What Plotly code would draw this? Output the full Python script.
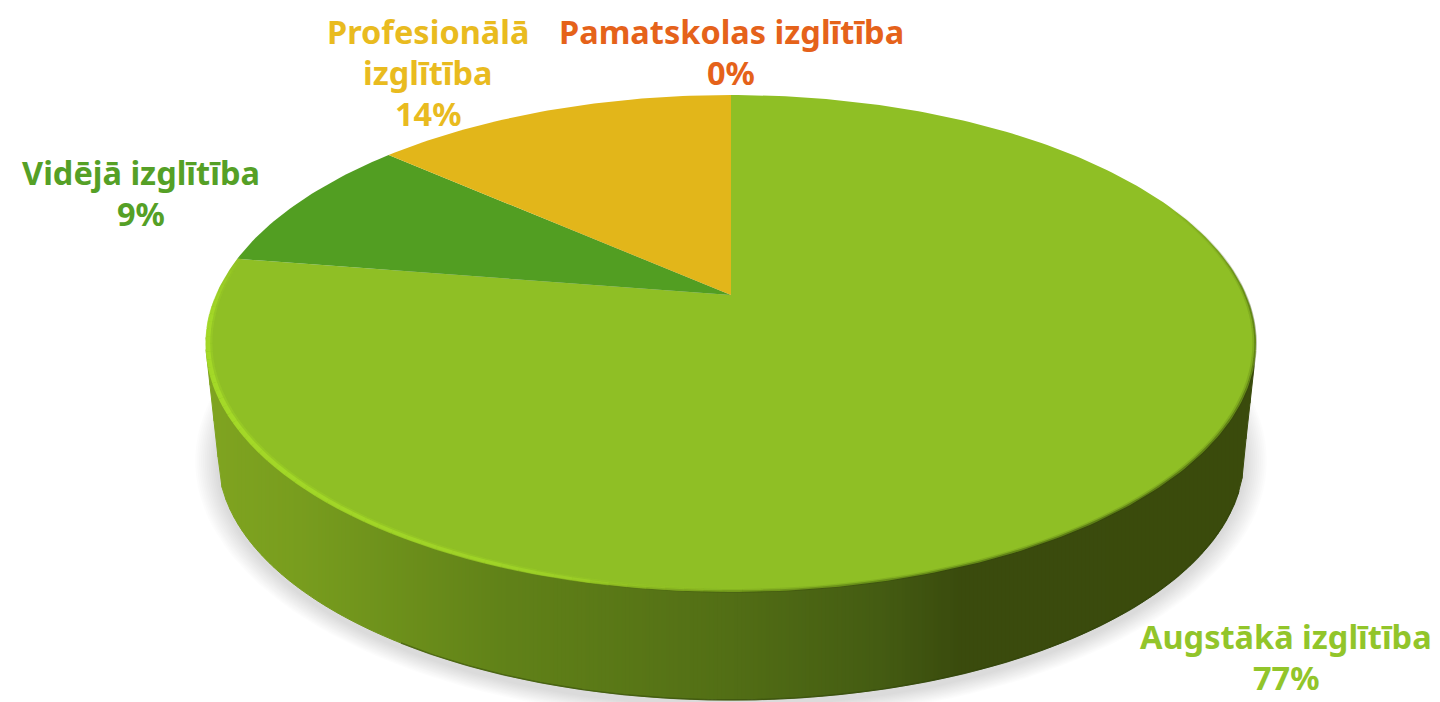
import numpy as np
import plotly.graph_objects as go

# ---- data (clockwise from 12 o'clock) ----
categories = ["Augstākā izglītība", "Vidējā izglītība", "Profesionālā izglītība", "Pamatskolas izglītība"]
values = [77.49, 9.0, 13.51, 0.0]
slice_colors = ["#8FBF25", "#529E22", "#E2B61A", "#E5611A"]
label_colors = ["#92C52A", "#55A026", "#E9BB1F", "#E5621A"]
label_lines = [["Augstākā izglītība"], ["Vidējā izglītība"], ["Profesionālā", "izglītība"], ["Pamatskolas izglītība"]]
label_anchor_x = [1286, 141, 428, 731]
label_first_y = [636, 172, 31, 31]
LINE_STEP = 41
FONT = "Noto Sans"
FONT_SIZE = 32.5

# ---- projection of the pie disc onto the page ----
CX, APEX_Y, K, P, Q = 731.0, 295.0, 0.195, 181.5, 515.0
TOP_CY, TOP_A, TOP_B = 343.5, 525.0, 248.5
BOT_CY, BOT_A, BOT_B = 457.0, 513.0, 243.0
W, H = 1440, 702


def project(frac, r=1.0):
    th = 2 * np.pi * np.asarray(frac)
    u, v = r * np.sin(th), r * np.cos(th)
    d = 1 + K * v
    return CX + Q * u / d, (APEX_Y - P * v) / d


def lerp_stops(x, stops):
    xs = [s[0] for s in stops]
    return [float(np.interp(x, xs, [s[1][i] for s in stops])) for i in range(3)]


fig = go.Figure()


def poly(xs, ys, color, line=0):
    fig.add_trace(go.Scatter(x=list(xs), y=list(ys), mode="lines", fill="toself", fillcolor=color,
                             line=dict(color=color, width=line), hoverinfo="skip", showlegend=False))


# shadow
for i in range(12):
    th = np.linspace(0, 2 * np.pi, 160)
    a = BOT_A + 2 + i * 1.9
    b = BOT_B + 3 + i * 1.3
    poly(CX + a * np.cos(th), BOT_CY + 4 + b * np.sin(th), "rgba(0,0,0,0.011)")

# side wall as vertical gradient strips
side_stops = [(206, (128, 164, 32)), (300, (120, 157, 30)), (500, (97, 130, 24)),
              (730, (82, 110, 21)), (880, (68, 92, 18)), (960, (58, 75, 13)), (1256, (58, 75, 12))]


def y_top(x):
    d = np.clip((x - CX) / TOP_A, -1, 1)
    return TOP_CY + TOP_B * np.sqrt(1 - d * d)


def y_bot(x):
    d = (x - CX) / BOT_A
    if abs(d) >= 1:
        s = (abs(x - CX) - BOT_A) / (TOP_A - BOT_A)
        return BOT_CY + s * (TOP_CY + 6 - BOT_CY)
    return BOT_CY + BOT_B * np.sqrt(1 - d * d)


edges = np.arange(206, 1257, 4.0)
for x0, x1 in zip(edges[:-1], edges[1:]):
    r, g, b = lerp_stops((x0 + x1) / 2, side_stops)
    col = f"rgb({r:.0f},{g:.0f},{b:.0f})"
    poly([x0, x1, x1, x0], [y_top(x0) - 6, y_top(x1) - 6, y_bot(x1), y_bot(x0)], col, 1)

# top-face slices from the values
total = sum(values)
start = 0.0
for val, col in zip(values, slice_colors):
    if val <= 0:
        continue
    fr = np.linspace(start, start + val / total, max(int(val * 4), 8))
    px, py = project(fr)
    poly([CX] + list(px) + [CX], [APEX_Y] + list(py) + [APEX_Y], col)
    start += val / total

# rim highlight / shade
fr_edges = np.linspace(0.18, 0.80, 130)
for f0, f1 in zip(fr_edges[:-1], fr_edges[1:]):
    fm = (f0 + f1) / 2
    hi = float(np.interp(fm, [0.49, 0.56, 0.68, 0.735, 0.78], [0, 0.7, 1, 0.9, 0]))
    lo = float(np.interp(fm, [0.18, 0.26, 0.40, 0.50, 0.54], [0.0, 0.7, 0.8, 0.45, 0]))
    seg = np.linspace(f0, f1, 3)
    if hi > 0:
        w = 2 + 3 * hi
        for r_in, al in ((0.9925, 0.35), (0.9965, 0.95)):
            sx, sy = project(seg, r_in)
            fig.add_trace(go.Scatter(x=sx, y=sy, mode="lines", hoverinfo="skip", showlegend=False,
                                     line=dict(color=f"rgba(165,218,40,{al * hi:.2f})", width=w)))
    if lo > 0:
        for r_in, al, w in ((0.999, 0.55, 2.5), (0.996, 0.2, 3)):
            sx, sy = project(seg, r_in)
            fig.add_trace(go.Scatter(x=sx, y=sy, mode="lines", hoverinfo="skip", showlegend=False,
                                     line=dict(color=f"rgba(50,70,10,{al * lo:.2f})", width=w)))

# bottom edge line
xs = np.linspace(CX - 330, CX + BOT_A - 5, 200)
fig.add_trace(go.Scatter(x=xs, y=[y_bot(x) for x in xs], mode="lines", hoverinfo="skip", showlegend=False,
                         line=dict(color="rgba(45,65,8,0.45)", width=1.5)))

# labels
annotations = []
for val, lines, ax, ay, col in zip(values, label_lines, label_anchor_x, label_first_y, label_colors):
    rows = lines + [f"{round(val / total * 100)}%"]
    for i, row in enumerate(rows):
        annotations.append(dict(x=ax, y=ay + i * LINE_STEP, text=f"<b>{row}</b>", showarrow=False,
                                xref="x", yref="y", xanchor="center", yanchor="middle",
                                font=dict(family=FONT, size=FONT_SIZE, color=col)))

fig.update_layout(width=W, height=H, margin=dict(l=0, r=0, t=0, b=0), paper_bgcolor="white", plot_bgcolor="white",
                  showlegend=False, annotations=annotations,
                  xaxis=dict(range=[0, W], visible=False, fixedrange=True),
                  yaxis=dict(range=[H, 0], visible=False, fixedrange=True))
fig.write_html("out.html", config=dict(displayModeBar=False),
               post_script="document.body.style.margin='0';document.body.style.overflow='hidden';")
